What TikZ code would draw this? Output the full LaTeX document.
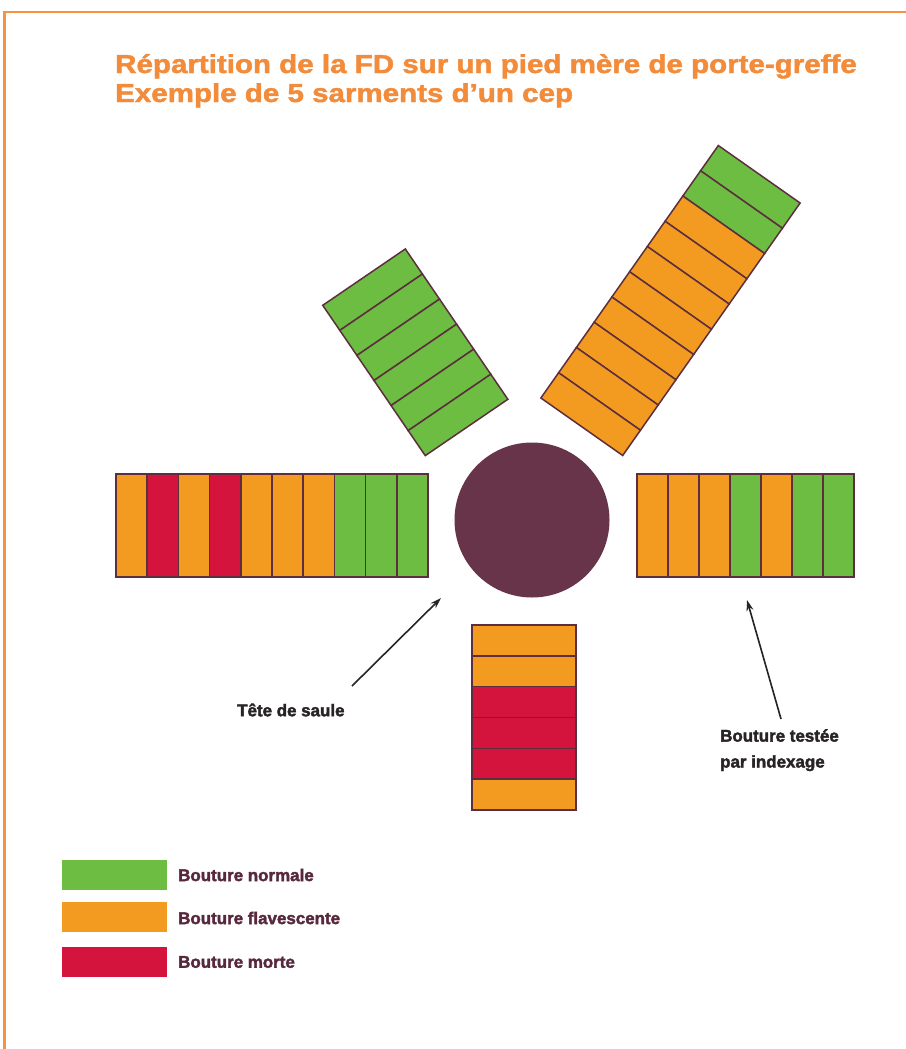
\documentclass[tikz,border=0pt]{standalone}
\usepackage{fontspec}
\setmainfont{Liberation Sans}
\newfontfamily\heavyfont{Liberation Sans}[BoldFeatures={FakeBold=1.6}]
\newfontfamily\blackfont{Liberation Sans}[BoldFeatures={FakeBold=2.2}]
\usetikzlibrary{arrows.meta}
\definecolor{frameor}{RGB}{246,146,66}
\definecolor{titleor}{RGB}{242,139,58}
\definecolor{gn}{RGB}{108,189,66}
\definecolor{og}{RGB}{243,154,32}
\definecolor{rd}{RGB}{212,20,60}
\definecolor{divc}{RGB}{92,46,62}
\definecolor{headc}{RGB}{104,52,74}
\definecolor{legtxt}{RGB}{88,40,62}
\definecolor{lbltxt}{RGB}{40,36,38}
\newcommand{\segbar}[4]{%
  \foreach \c [count=\i from 0] in {#4} {%
    \filldraw[fill=\c, draw=divc, line width=1.5]
      ({-#3/2},{-#1*#2/2+\i*#2}) rectangle ({#3/2},{-#1*#2/2+(\i+1)*#2});
  }%
}
\tikzset{
  titletxt/.style={anchor=base west, inner sep=0, text=titleor, font=\heavyfont\fontsize{26}{30}\selectfont\bfseries},
  lbl/.style={anchor=west, inner sep=0, text=lbltxt, font=\blackfont\fontsize{17}{26}\selectfont\bfseries, align=left},
  legtext/.style={anchor=west, inner sep=0, text=legtxt, font=\blackfont\fontsize{17}{21}\selectfont\bfseries},
  legbox/.style={minimum width=105, minimum height=30, inner sep=0, anchor=north west},
  pointer/.style={draw=lbltxt, line width=1.6, -{Stealth[length=11pt,width=7pt]}}
}
\begin{document}
\begin{tikzpicture}[x=1bp,y=-1bp]
\useasboundingbox (0,0) rectangle (906,1049);
\fill[white] (0,0) rectangle (906,1049);
% frame
\draw[frameor, line width=3] (4.7,1049) -- (4.7,12) -- (906,12);
% title
\node[titletxt] (t1) at (115,73) {\scalebox{1.14}[1]{Répartition de la FD sur un pied mère de porte-greffe}};
\node[titletxt] (t2) at (115,102) {\scalebox{1.14}[1]{Exemple de 5 sarments d’un cep}};
% head of willow
\fill[headc] (532,520) circle (77.5);
\node[circle, minimum size=155, inner sep=0] (head) at (532,520) {};
% left bar
\begin{scope}[shift={(272,525.5)}, rotate=90]
\segbar{10}{31.2}{103}{og,rd,og,rd,og,og,og,gn,gn,gn}
\end{scope}
% right bar
\begin{scope}[shift={(745.5,525.5)}, rotate=90]
\segbar{7}{31}{103}{og,og,og,gn,og,gn,gn}
\end{scope}
% bottom bar
\begin{scope}[shift={(524,717.5)}]
\segbar{6}{30.8}{104}{og,og,rd,rd,rd,og}
\end{scope}
% upper left bar
\begin{scope}[shift={(415.3,352.3)}, rotate=34.3]
\segbar{6}{30.33}{100}{gn,gn,gn,gn,gn,gn}
\end{scope}
% upper right bar
\begin{scope}[shift={(670.5,300.5)}, rotate=-35.1]
\segbar{10}{30.86}{100}{gn,gn,og,og,og,og,og,og,og,og}
\end{scope}
% labels and arrows
\node[lbl] (tete) at (237,710) {Tête de saule};
\node[lbl, anchor=north west] (bout) at (720,729) {Bouture testée\\par indexage};
\coordinate (teteTail) at (352,686);
\coordinate (teteHead) at (441,598);
\coordinate (boutTail) at (781,719);
\coordinate (boutHead) at (747,600);
\draw[pointer] (teteTail) -- (teteHead);
\draw[pointer] (boutTail) -- (boutHead);
% legend
\node[legbox, fill=gn] (lg1) at (62,860) {};
\node[legbox, fill=og] (lg2) at (62,902) {};
\node[legbox, fill=rd] (lg3) at (62,947) {};
\node[legtext] (lt1) at (178,875) {Bouture normale};
\node[legtext] (lt2) at (178,918) {Bouture flavescente};
\node[legtext] (lt3) at (178,962) {Bouture morte};
\end{tikzpicture}
\end{document}
